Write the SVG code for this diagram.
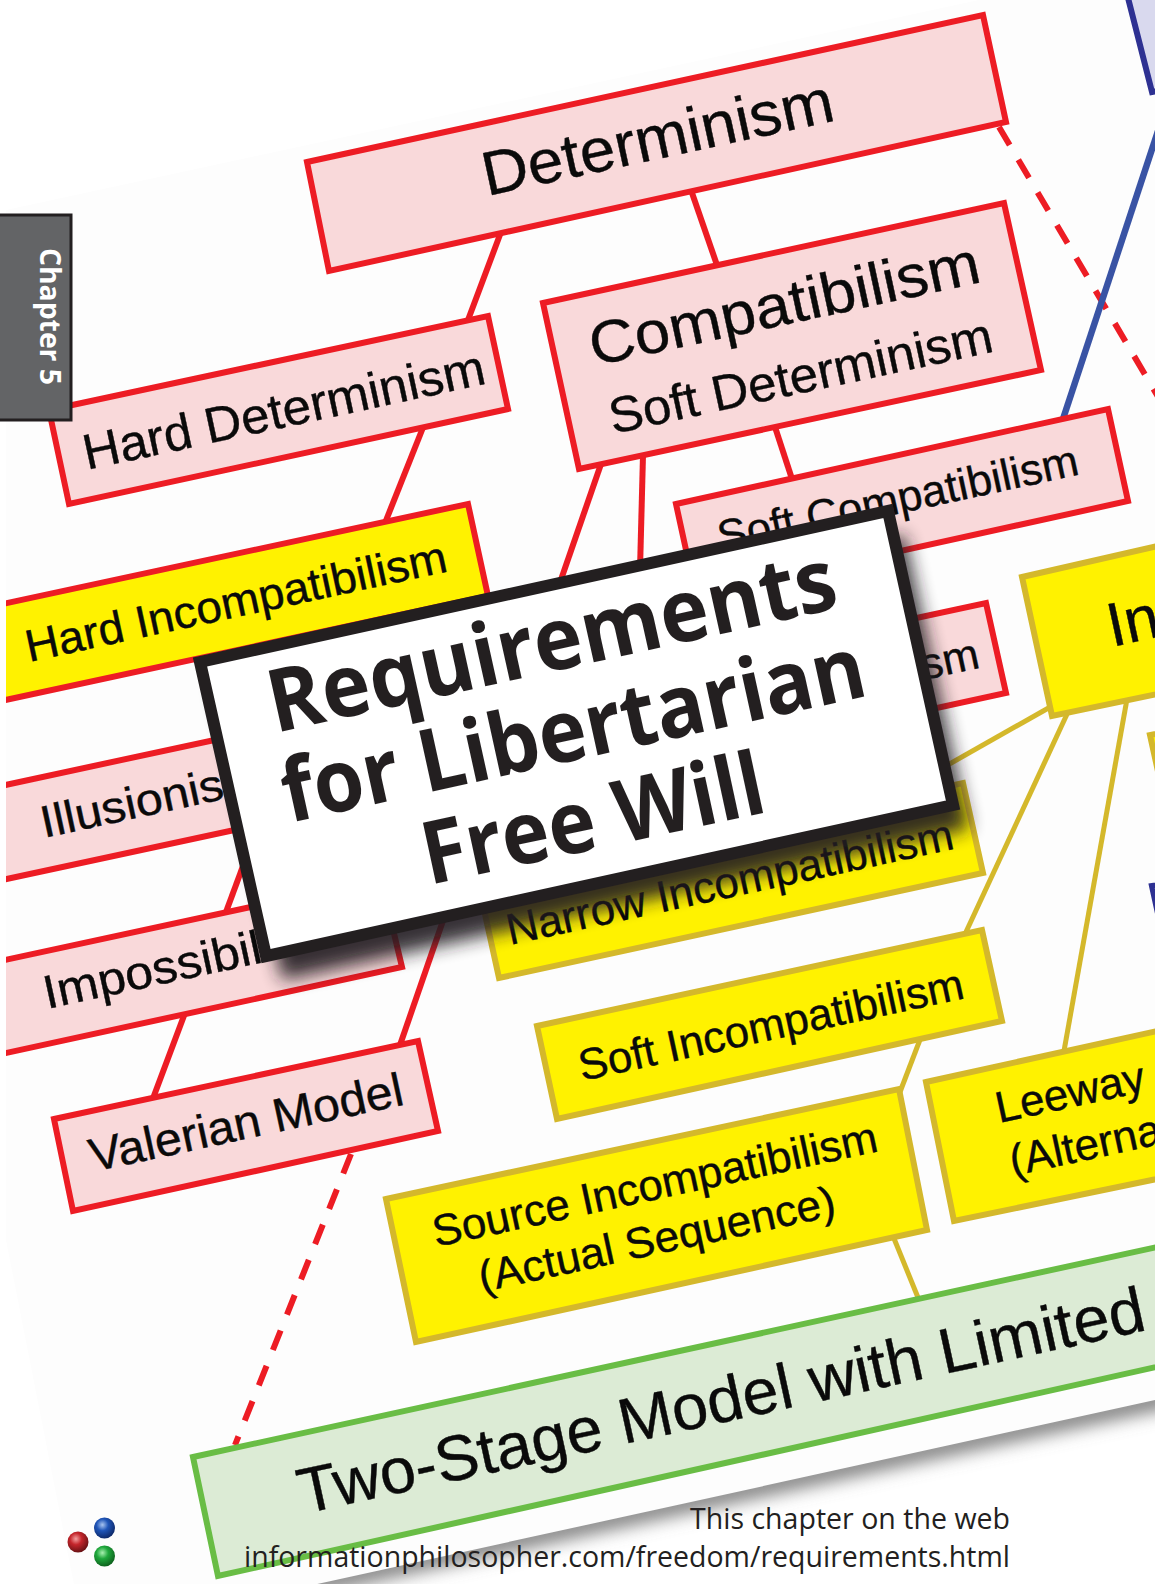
<svg xmlns="http://www.w3.org/2000/svg" width="1155" height="1584" viewBox="0 0 1155 1584">
<style>
.box{stroke-width:6;stroke-linejoin:miter}
.r{fill:#f9d9da;stroke:#ed1c24}
.y{fill:#fff200;stroke:#d4b82b}
.yr{fill:#fff200;stroke:#ed1c24}
.g{fill:#dcebd5;stroke:#69bd45}
.b{fill:#d9d9ee;stroke:#2e3192}
.t{font-family:"Liberation Sans",Arial,sans-serif;fill:#0a0a0a;stroke:#0a0a0a;stroke-width:.4}
.lr{fill:none;stroke:#ed1c24;stroke-width:6}
.ly{fill:none;stroke:#d4b82b;stroke-width:5}
.lb{fill:none;stroke:#3953a4;stroke-width:6.5}
.d{stroke-dasharray:21 17}
.title{font-family:"Open Sans","Noto Sans",sans-serif;font-weight:700;font-size:87px;fill:#231f20}
.foot{font-family:"Open Sans","Noto Sans",sans-serif;font-size:28.5px;fill:#231f20}
</style>
<defs>
<filter id="blur" x="-20%" y="-20%" width="140%" height="140%"><feGaussianBlur stdDeviation="9"/></filter>
<filter id="blur2" x="-5%" y="-30%" width="110%" height="160%"><feGaussianBlur stdDeviation="9"/></filter>
<clipPath id="pg"><rect x="6" y="-50" width="1160" height="1640"/></clipPath>
<radialGradient id="br" cx=".4" cy=".35" r=".7"><stop offset="0" stop-color="#f4a0a0"/><stop offset=".4" stop-color="#c4252b"/><stop offset="1" stop-color="#5e0f12"/></radialGradient>
<radialGradient id="bb" cx=".4" cy=".35" r=".7"><stop offset="0" stop-color="#a8c4f0"/><stop offset=".4" stop-color="#1f55b8"/><stop offset="1" stop-color="#0c2460"/></radialGradient>
<radialGradient id="bg" cx=".4" cy=".35" r=".7"><stop offset="0" stop-color="#a8f0b0"/><stop offset=".4" stop-color="#1fa83c"/><stop offset="1" stop-color="#0c5a1a"/></radialGradient>
</defs>
<rect width="1155" height="1584" fill="#fff"/>
<polygon points="240,1590 1175,1386 1175,1406 240,1610" fill="#777" filter="url(#blur2)"/>
<polygon points="6,210 1155,-38 1155,1400 290,1590 75,1590 6,1240" fill="#fdfdfd"/>
<g clip-path="url(#pg)">
<g id="connectors">
<path class="lr" d="M501,232L468,320"/>
<path class="lr" d="M691,190L718,268"/>
<path class="lr" d="M424,425L385,523"/>
<path class="lr" d="M775,427L792,479"/>
<path class="lr" d="M601,464L400,1045"/>
<path class="lr" d="M643,455L640,570"/>
<path class="lr" d="M260,820L226,912"/>
<path class="lr" d="M185,1013L152,1101"/>
<path class="lr d" d="M999,127L1160,400"/>
<path class="lr d" d="M351,1154L235,1445"/>
<path class="lb" d="M1160,125L1062,422"/>
<path class="ly" d="M1052,706L930,775"/>
<path class="ly" d="M1068,712L966,932"/>
<path class="ly" d="M1127,699L1064,1051"/>
<path class="ly" d="M921,1037L900,1092"/>
<path class="ly" d="M893,1236L919,1300"/>
</g>
<g id="n-blue1"><polygon class="box b" points="1126,-10 1152,92 1200,82 1200,-10"/></g>
<g id="n-blue2"><polygon class="box b" points="1152,886 1159,918 1200,910 1200,878"/></g>
<g id="n-yellow-edge"><polygon class="box y" points="1150,735 1159,776 1200,768 1200,725"/></g>
<g id="n-determinism"><polygon class="box r" points="307,162 983,15 1006,122 329,271"/>
<text class="t" font-size="62" transform="translate(487,196) rotate(-12.2)" textLength="358" lengthAdjust="spacingAndGlyphs">Determinism</text></g>
<g id="n-hard-determinism"><polygon class="box r" points="49,410 488,316 508,409 69,504"/>
<text class="t" font-size="50" transform="translate(87,470) rotate(-12.2)" textLength="410" lengthAdjust="spacingAndGlyphs">Hard Determinism</text></g>
<g id="n-compatibilism"><polygon class="box r" points="543,303 1004,203 1041,370 579,469"/>
<text class="t" font-size="60" transform="translate(594,366) rotate(-12.2)" textLength="398" lengthAdjust="spacingAndGlyphs">Compatibilism</text>
<text class="t" font-size="50" transform="translate(613,434) rotate(-12.2)" textLength="391" lengthAdjust="spacingAndGlyphs">Soft Determinism</text></g>
<g id="n-soft-compatibilism"><polygon class="box r" points="676,504 1108,409 1128,501 696,596"/>
<text class="t" font-size="44" transform="translate(721,552) rotate(-12.2)" textLength="368" lengthAdjust="spacingAndGlyphs">Soft Compatibilism</text></g>
<g id="n-semi"><polygon class="box r" points="800,643 986,603 1006,693 822,733"/>
<text class="t" font-size="44" transform="translate(924,680) rotate(-12.2)">sm</text></g>
<g id="n-hard-incompatibilism"><polygon class="box yr" points="-100,626 468,504 488,596 -78,718"/>
<text class="t" font-size="45" transform="translate(29,662) rotate(-12.2)" textLength="430" lengthAdjust="spacingAndGlyphs">Hard Incompatibilism</text></g>
<g id="n-illusionism"><polygon class="box r" points="-60,799 340,713 360,803 -40,889"/>
<text class="t" font-size="45" transform="translate(44,838) rotate(-12.2)" textLength="186" lengthAdjust="spacingAndGlyphs">Illusionis</text></g>
<g id="n-impossibilism"><polygon class="box r" points="-60,974 381,879 402,967 -40,1063"/>
<text class="t" font-size="47" transform="translate(47,1009) rotate(-12.2)" textLength="222" lengthAdjust="spacingAndGlyphs">Impossibil</text></g>
<g id="n-narrow"><polygon class="box y" points="479,887 963,783 983,873 499,978"/>
<text class="t" font-size="44" transform="translate(510,945) rotate(-12.2)" textLength="456" lengthAdjust="spacingAndGlyphs">Narrow Incompatibilism</text></g>
<g id="n-soft-incompatibilism"><polygon class="box y" points="537,1026 982,930 1002,1021 557,1119"/>
<text class="t" font-size="44" transform="translate(582,1081) rotate(-12.2)" textLength="393" lengthAdjust="spacingAndGlyphs">Soft Incompatibilism</text></g>
<g id="n-source"><polygon class="box y" points="386,1199 899,1089 927,1230 416,1342"/>
<text class="t" font-size="44" transform="translate(436,1247) rotate(-12.2)" textLength="454" lengthAdjust="spacingAndGlyphs">Source Incompatibilism</text>
<text class="t" font-size="43.5" transform="translate(482,1292) rotate(-12.2)" textLength="364" lengthAdjust="spacingAndGlyphs">(Actual Sequence)</text></g>
<g id="n-leeway"><polygon class="box y" points="926,1082 1180,1026 1210,1168 954,1221"/>
<text class="t" font-size="44" transform="translate(999,1123) rotate(-12.2)">Leeway</text>
<text class="t" font-size="44" transform="translate(1013,1176) rotate(-12.2)">(Alterna</text></g>
<g id="n-indeterminism"><polygon class="box y" points="1022,577 1180,541 1210,683 1052,716"/>
<text class="t" font-size="62" transform="translate(1112,647) rotate(-12.2)">In</text></g>
<g id="n-valerian"><polygon class="box r" points="54,1119 418,1041 438,1131 73,1211"/>
<text class="t" font-size="47" transform="translate(93,1172) rotate(-12.2)" textLength="320" lengthAdjust="spacingAndGlyphs">Valerian Model</text></g>
<g id="n-two-stage"><polygon class="box g" points="193,1457 1180,1242 1210,1355 218,1576"/>
<text class="t" font-size="64" transform="translate(303,1514) rotate(-12.3)" textLength="865" lengthAdjust="spacingAndGlyphs">Two-Stage Model with Limited</text></g>
</g>
<g id="title-card">
<polygon points="216,686 904,535 969,829 282,980" fill="#231f20" opacity=".9" filter="url(#blur)"/>
<polygon points="200,662 888,511 953,805 266,956" fill="#fff" stroke="#231f20" stroke-width="12" stroke-linejoin="miter"/>
<text class="title" transform="translate(275,733) rotate(-12.5)" textLength="580" lengthAdjust="spacingAndGlyphs">Requirements</text>
<text class="title" transform="translate(289,823) rotate(-12.4)" textLength="595" lengthAdjust="spacingAndGlyphs">for Libertarian</text>
<text class="title" transform="translate(429,885) rotate(-12.2)" textLength="348" lengthAdjust="spacingAndGlyphs">Free Will</text>
</g>
<g id="chapter-tab">
<rect x="-3" y="215" width="74" height="205" fill="#636466" stroke="#231f20" stroke-width="3"/>
<text font-family="'Open Sans','Noto Sans',sans-serif" font-weight="700" font-size="29" fill="#fff" transform="translate(40,248) rotate(90)" textLength="137" lengthAdjust="spacingAndGlyphs">Chapter 5</text>
</g>
<g id="logo">
<circle cx="78" cy="1542" r="10.5" fill="url(#br)"/>
<circle cx="104.500" cy="1528" r="10.500" fill="url(#bb)"/>
<circle cx="104.500" cy="1556" r="10.500" fill="url(#bg)"/>
</g>
<g id="footer">
<text class="foot" x="1010" y="1529" text-anchor="end" textLength="320" lengthAdjust="spacingAndGlyphs">This chapter on the web</text>
<text class="foot" x="1010" y="1567" text-anchor="end" textLength="766" lengthAdjust="spacingAndGlyphs">informationphilosopher.com/freedom/requirements.html</text>
</g>
</svg>
